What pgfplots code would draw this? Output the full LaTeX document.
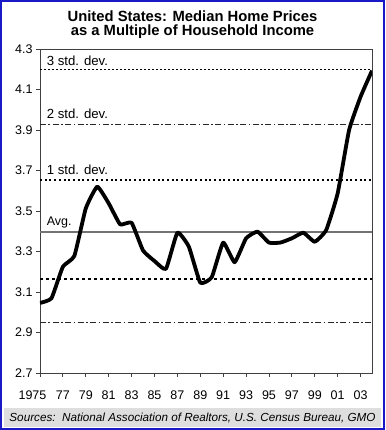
\documentclass[border=0pt]{standalone}
\usepackage{fontspec}
\setmainfont{Liberation Sans}
\usepackage{pgfplots}
\pgfplotsset{compat=1.18}
\definecolor{bordblue}{RGB}{25,25,200}
\definecolor{srcgray}{RGB}{222,222,222}
\begin{document}
\begin{tikzpicture}[x=1pt,y=1pt]
\useasboundingbox (0,0) rectangle (385,430);
\fill[white] (0,0) rectangle (385,430);
\fill[srcgray] (4,2.5) rectangle (381,22);
\node[anchor=base, inner sep=0, font=\fontsize{11.7}{13}\selectfont\itshape] at (192.5,8.5) {Sources:\ \ National Association of Realtors, U.S. Census Bureau, GMO};
\node[anchor=base, inner sep=0, font=\fontsize{14.8}{16}\selectfont\bfseries] at (192.5,408.5) {United States: Median Home Prices};
\node[anchor=base, inner sep=0, font=\fontsize{14.8}{16}\selectfont\bfseries] at (192.5,394.5) {as a Multiple of Household Income};
\begin{axis}[
  scale only axis, width=332pt, height=324pt,
  at={(40pt,57pt)}, anchor=south west,
  xmin=1975, xmax=2004, ymin=2.7, ymax=4.3,
  ytick={2.7,2.9,3.1,3.3,3.5,3.7,3.9,4.1,4.3},
  xtick={1977,1979,...,2003},
  xticklabels={77,79,81,83,85,87,89,91,93,95,97,99,01,03},
  extra x ticks={1975},
  extra x tick labels={1975},
  extra x tick style={xticklabel style={xshift=-7.5pt}},
  yticklabel style={/pgf/number format/.cd, fixed, fixed zerofill, precision=1},
  xticklabel style={yshift=-10pt},
  /pgf/number format/assume math mode=true,
  tick align=outside, tick pos=left, major tick length=4pt,
  tick style={black!75, line width=0.8pt},
  axis line style={black!75, line width=0.8pt},
  ticklabel style={font=\fontsize{12.5}{15}\selectfont},
  clip=true,
]
% reference lines
\addplot[black, line width=0.9pt, dash pattern=on 2pt off 2pt] coordinates {(1975,4.2) (2004,4.2)};
\addplot[black!85, line width=1pt, dash pattern=on 6pt off 2.5pt on 1.5pt off 2.5pt] coordinates {(1975,3.925) (2004,3.925)};
\addplot[black, line width=2.2pt, dash pattern=on 2pt off 2.7pt] coordinates {(1975,3.652) (2004,3.652)};
\addplot[black!55, line width=1.5pt] coordinates {(1975,3.396) (2004,3.396)};
\addplot[black, line width=1.4pt, dash pattern=on 3pt off 3pt] coordinates {(1975,3.164) (2004,3.164)};
\addplot[black!85, line width=1pt, dash pattern=on 6pt off 2.5pt on 1.5pt off 2.5pt] coordinates {(1975,2.95) (2004,2.95)};
% data
\addplot[black, line width=3.8pt, line join=round, smooth, tension=0.25] coordinates {
(1975,3.046) (1976,3.069) (1977,3.225) (1978,3.278) (1979,3.513) (1980,3.620)
(1981,3.538) (1982,3.434) (1983,3.442) (1984,3.305) (1985,3.253) (1986,3.214)
(1987,3.393) (1988,3.324) (1989,3.146) (1990,3.173) (1991,3.344) (1992,3.247)
(1993,3.365) (1994,3.398) (1995,3.344) (1996,3.344) (1997,3.365) (1998,3.393)
(1999,3.348) (2000,3.406) (2001,3.587) (2002,3.900) (2003,4.064) (2004,4.193)
};
\node[anchor=base west, inner sep=0, font=\fontsize{13.2}{15}\selectfont] at (axis cs:1975.58,4.2) [yshift=3.3pt] {3 std. dev.};
\node[anchor=base west, inner sep=0, font=\fontsize{13.2}{15}\selectfont] at (axis cs:1975.58,3.925) [yshift=6pt] {2 std. dev.};
\node[anchor=base west, inner sep=0, font=\fontsize{13.2}{15}\selectfont] at (axis cs:1975.58,3.652) [yshift=5.3pt] {1 std. dev.};
\node[anchor=base west, inner sep=0, font=\fontsize{12.5}{15}\selectfont] at (axis cs:1975.58,3.396) [yshift=7pt] {Avg.};
\end{axis}
\draw[bordblue, line width=2pt] (1,1) rectangle (384,429);
\end{tikzpicture}
\end{document}
